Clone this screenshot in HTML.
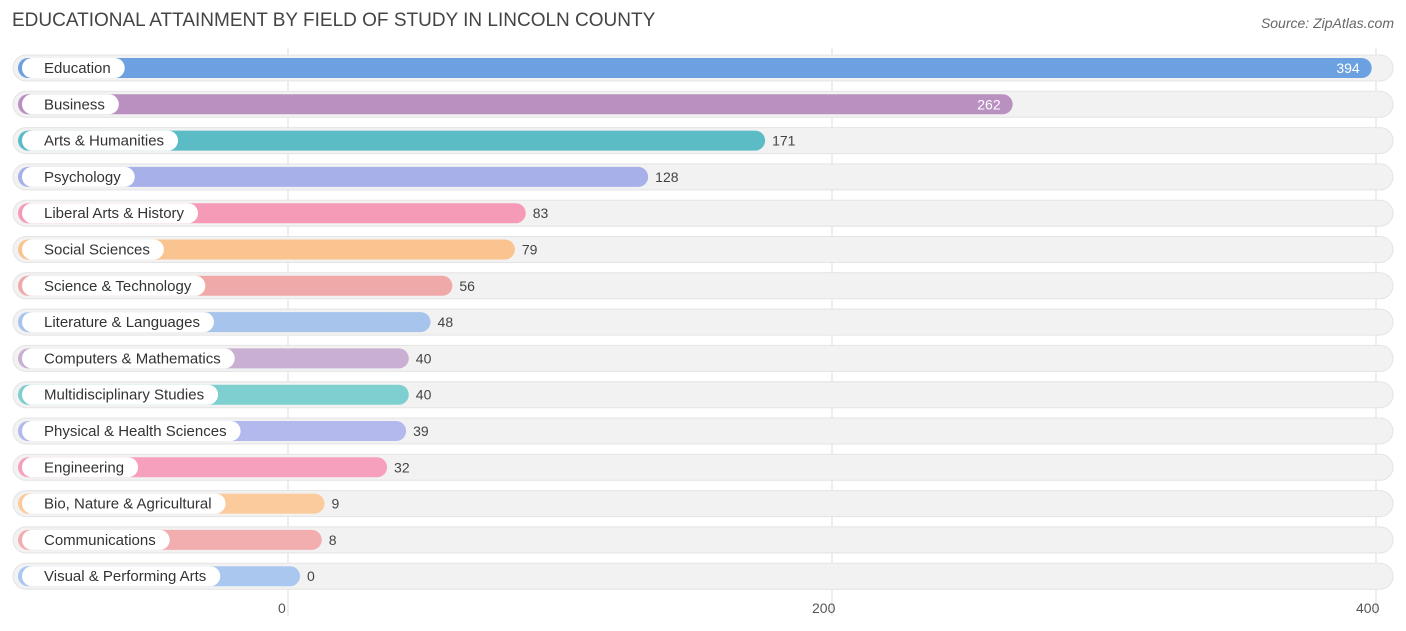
<!DOCTYPE html>
<html><head><meta charset="utf-8"><style>
body{margin:0;width:1406px;height:631px;background:#fff;font-family:"Liberation Sans",sans-serif;overflow:hidden;position:relative}
#title{position:absolute;left:12px;top:10px;font-size:19px;color:#444}
#source{position:absolute;right:12px;top:15px;font-size:14px;color:#666;font-style:italic}
svg{position:absolute;left:0;top:0}
</style></head><body>
<div id="title">EDUCATIONAL ATTAINMENT BY FIELD OF STUDY IN LINCOLN COUNTY</div>
<div id="source">Source: ZipAtlas.com</div>
<svg id="chart" width="1406" height="631"></svg>
<script>
const categories=["Education","Business","Arts & Humanities","Psychology","Liberal Arts & History","Social Sciences","Science & Technology","Literature & Languages","Computers & Mathematics","Multidisciplinary Studies","Physical & Health Sciences","Engineering","Bio, Nature & Agricultural","Communications","Visual & Performing Arts"];
const values=[394,262,171,128,83,79,56,48,40,40,39,32,9,8,0];
const colors=["#6ba1e0","#b990c0","#5bbcc6","#a7b0e8","#f59bb8","#f9c48f","#f0a9a9","#a7c4ec","#c9afd2","#7ecfd0","#b3b9ec","#f6a0bd","#fbcb9c","#f2aeae","#a9c7ef"];
const ticks=[0,200,400];
const NS="http://www.w3.org/2000/svg";
const svg=document.getElementById('chart');
const x=v=>288+v*2.72;
const y=i=>68+i*36.3;
function mk(t,a){const e=document.createElementNS(NS,t);for(const k in a)e.setAttribute(k,a[k]);svg.appendChild(e);return e;}
ticks.forEach(t=>{
 const l=mk('line',{x1:x(t),x2:x(t),y1:48,y2:616,stroke:'#ddd','stroke-width':1});
 
 
 const tx=mk('text',{x:x(t)-(t===0?10:t===400?20:20),y:613,'font-size':14,fill:'#555'});
 tx.textContent=t;
 
 
});
categories.forEach((c,i)=>{
 const cy=y(i);
 const bg=mk('rect',{x:13,y:cy-13,width:1380,height:26,rx:13,fill:'#f2f2f2',stroke:'#e4e4e4'});
 
 
 const end=x(values[i])+12;
 const b=mk('rect',{x:18,y:cy-10,width:end-18,height:20,rx:10,fill:colors[i]});
 
 
 const lt=mk('text',{x:44,y:cy+5,'font-size':15,fill:'#333'});
 lt.textContent=c;
 const w=lt.getComputedTextLength();
 const lp=mk('rect',{x:22,y:cy-10,width:w+36,height:20,rx:10,fill:'#fff'});
 svg.insertBefore(lp,lt);
 
 
 
 
 const inside=values[i]>200;
 const vt=mk('text',{x:inside?end-12:end+7,y:cy+5,'font-size':14,fill:inside?'#fff':'#444','text-anchor':inside?'end':'start'});
 vt.textContent=values[i];
 
 
});
</script>
</body></html>
